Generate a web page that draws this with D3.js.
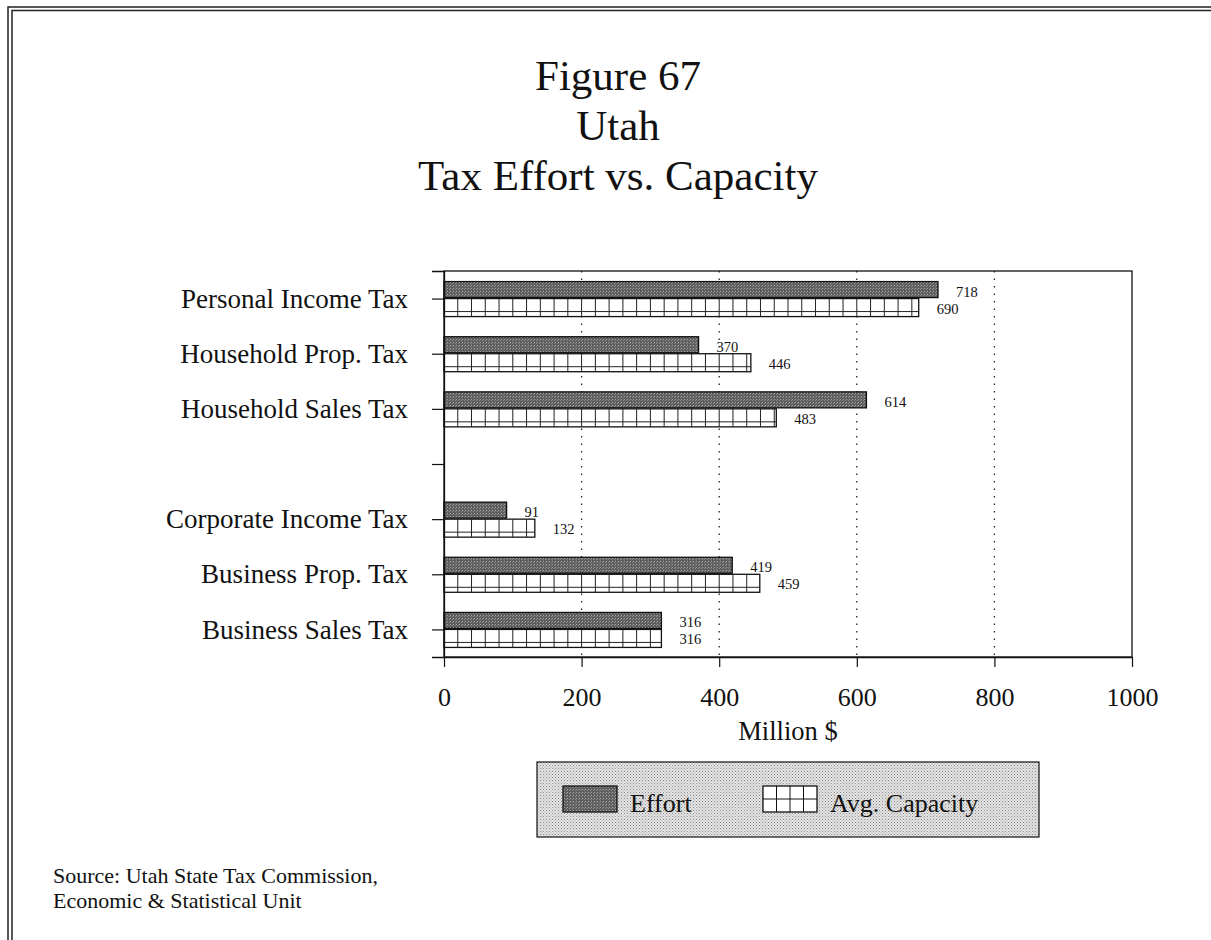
<!DOCTYPE html>
<html>
<head>
<meta charset="utf-8">
<script src="https://cdn.jsdelivr.net/npm/d3@7"></script>
<style>
  body { margin: 0; background: #fff; }
  text { font-family: "Liberation Serif", "Times New Roman", serif; fill: #111; }
</style>
</head>
<body>
<div id="container"></div>
<script>
/* DATA */
const categories = ["Personal Income Tax", "Household Prop. Tax", "Household Sales Tax",
  "Corporate Income Tax", "Business Prop. Tax", "Business Sales Tax"]
const effort = [718, 370, 614, 91, 419, 316]
const capacity = [690, 446, 483, 132, 459, 316]
const xTicks = [0, 200, 400, 600, 800, 1000]
const GAP = "__gap__"
const slots = [...categories.slice(0, 3), GAP, ...categories.slice(3)]
const titleLines = ["Figure 67", "Utah", "Tax Effort vs. Capacity"]
const sourceLines = ["Source: Utah State Tax Commission,", "Economic & Statistical Unit"]

/* CONSTANTS */
const width = 1211, height = 940
const plot = { left: 444, right: 1132, top: 271, bottom: 657 }

const svg = d3.select("#container")
  .append("svg")
  .attr("width", width)
  .attr("height", height)

const defs = svg.append("defs")

// dark stipple for effort bars
const dark = defs.append("pattern")
  .attr("id", "dark")
  .attr("patternUnits", "userSpaceOnUse")
  .attr("width", 3).attr("height", 3)
dark.append("rect").attr("width", 3).attr("height", 3).attr("fill", "#5e5e5e")
dark.append("rect").attr("x", 0).attr("y", 0).attr("width", 1).attr("height", 1).attr("fill", "#a8a8a8")
dark.append("rect").attr("x", 2).attr("y", 1).attr("width", 1).attr("height", 1).attr("fill", "#8c8c8c")

// light stipple for legend box
const light = defs.append("pattern")
  .attr("id", "light")
  .attr("patternUnits", "userSpaceOnUse")
  .attr("width", 3).attr("height", 3)
light.append("rect").attr("width", 3).attr("height", 3).attr("fill", "#e4e4e4")
light.append("rect").attr("x", 0).attr("y", 0).attr("width", 1).attr("height", 1).attr("fill", "#8a8a8a")
light.append("rect").attr("x", 1.5).attr("y", 1.5).attr("width", 1).attr("height", 1).attr("fill", "#a0a0a0")

// page frame (double line)
svg.append("rect").attr("x", 8).attr("y", 7).attr("width", width + 20).attr("height", height + 20)
  .attr("fill", "none").attr("stroke", "#222").attr("stroke-width", 1.5)
svg.append("rect").attr("x", 12).attr("y", 10.5).attr("width", width + 20).attr("height", height + 20)
  .attr("fill", "none").attr("stroke", "#222").attr("stroke-width", 1.5)

// TITLE
svg.selectAll("text.title")
  .data(titleLines)
  .join("text")
  .attr("class", "title")
  .attr("x", 618)
  .attr("y", (d, i) => 90 + i * 50)
  .attr("text-anchor", "middle")
  .attr("font-size", 43)
  .text(d => d)

// SCALES
const x = d3.scaleLinear().domain([0, 1000]).range([plot.left, plot.right])
const y = d3.scalePoint().domain(slots).range([plot.top, plot.bottom]).padding(0.5)

// GRID (dotted)
svg.selectAll("line.grid")
  .data(xTicks.slice(1, -1))
  .join("line")
  .attr("class", "grid")
  .attr("x1", d => x(d)).attr("x2", d => x(d))
  .attr("y1", plot.top).attr("y2", plot.bottom)
  .attr("stroke", "#222")
  .attr("stroke-width", 1.3)
  .attr("stroke-dasharray", "1.5,6")

// BARS
const rows = categories.map((c, i) => ({ cat: c, effort: effort[i], capacity: capacity[i] }))
const barH = 17, capH = 18

svg.selectAll("rect.effort")
  .data(rows)
  .join("rect")
  .attr("class", "effort")
  .attr("x", x(0))
  .attr("y", d => y(d.cat) - barH)
  .attr("width", d => x(d.effort) - x(0))
  .attr("height", barH - 1)
  .attr("fill", "url(#dark)")
  .attr("stroke", "#111")
  .attr("stroke-width", 1.3)

const cap = svg.selectAll("g.capacity")
  .data(rows)
  .join("g")
  .attr("class", "capacity")

cap.append("rect")
  .attr("x", x(0))
  .attr("y", d => y(d.cat))
  .attr("width", d => x(d.capacity) - x(0))
  .attr("height", capH)
  .attr("fill", "#fff")
  .attr("stroke", "#111")
  .attr("stroke-width", 1.3)

// grid cells inside capacity bars: every 20 units
cap.selectAll("line.cell")
  .data(d => d3.range(20, d.capacity, 20).map(v => ({ v, cat: d.cat })))
  .join("line")
  .attr("class", "cell")
  .attr("x1", d => x(d.v)).attr("x2", d => x(d.v))
  .attr("y1", d => y(d.cat)).attr("y2", d => y(d.cat) + capH)
  .attr("stroke", "#222")
  .attr("stroke-width", 1)

cap.append("line")
  .attr("x1", x(0)).attr("x2", d => x(d.capacity))
  .attr("y1", d => y(d.cat) + 13).attr("y2", d => y(d.cat) + 13)
  .attr("stroke", "#222")
  .attr("stroke-width", 1)

// VALUE LABELS
svg.selectAll("text.effortLabel")
  .data(rows)
  .join("text")
  .attr("class", "effortLabel")
  .attr("x", d => x(d.effort) + 18)
  .attr("y", d => y(d.cat) - 2)
  .attr("font-size", 14.5)
  .text(d => d.effort)

svg.selectAll("text.capLabel")
  .data(rows)
  .join("text")
  .attr("class", "capLabel")
  .attr("x", d => x(d.capacity) + 18)
  .attr("y", d => y(d.cat) + 15)
  .attr("font-size", 14.5)
  .text(d => d.capacity)

// PLOT FRAME
svg.append("rect")
  .attr("x", plot.left).attr("y", plot.top)
  .attr("width", plot.right - plot.left).attr("height", plot.bottom - plot.top)
  .attr("fill", "none").attr("stroke", "#111").attr("stroke-width", 1.3)

// AXES
const yAxis = svg.append("g")
  .attr("transform", `translate(${plot.left},0)`)
  .call(d3.axisLeft(y).tickSize(12).tickPadding(24).tickFormat(d => d === GAP ? "" : d))
yAxis.select(".domain").attr("stroke", "#111").attr("stroke-width", 1.3)
yAxis.selectAll(".tick line").attr("stroke", "#111").attr("stroke-width", 1.2)
yAxis.selectAll(".tick text")
  .attr("font-size", 27)
  .attr("font-family", "Liberation Serif, serif")
  .attr("fill", "#111")

const xAxis = svg.append("g")
  .attr("transform", `translate(0,${plot.bottom})`)
  .call(d3.axisBottom(x).tickValues(xTicks).tickFormat(d3.format("d"))
    .tickSize(10).tickPadding(21).tickSizeOuter(0))
xAxis.select(".domain").attr("stroke", "#111").attr("stroke-width", 1.3)
xAxis.selectAll(".tick line").attr("stroke", "#111").attr("stroke-width", 1.2)
xAxis.selectAll(".tick text")
  .attr("font-size", 26)
  .attr("font-family", "Liberation Serif, serif")
  .attr("fill", "#111")

svg.append("text")
  .attr("x", 788)
  .attr("y", 740)
  .attr("text-anchor", "middle")
  .attr("font-size", 26.5)
  .text("Million $")

// LEGEND
const legend = svg.append("g")
legend.append("rect")
  .attr("x", 537).attr("y", 762).attr("width", 502).attr("height", 75)
  .attr("fill", "url(#light)").attr("stroke", "#222").attr("stroke-width", 1.3)

legend.append("rect")
  .attr("x", 563).attr("y", 786).attr("width", 54).attr("height", 26)
  .attr("fill", "url(#dark)").attr("stroke", "#111").attr("stroke-width", 1.3)
legend.append("text").attr("x", 630).attr("y", 812).attr("font-size", 26).text("Effort")

const sw = { x: 763, y: 786, w: 54, h: 26 }
legend.append("rect")
  .attr("x", sw.x).attr("y", sw.y).attr("width", sw.w).attr("height", sw.h)
  .attr("fill", "#fff").attr("stroke", "#111").attr("stroke-width", 1.3)
legend.selectAll("line.lv")
  .data([1, 2, 3])
  .join("line")
  .attr("x1", d => sw.x + d * sw.w / 4).attr("x2", d => sw.x + d * sw.w / 4)
  .attr("y1", sw.y).attr("y2", sw.y + sw.h)
  .attr("stroke", "#111")
legend.append("line")
  .attr("x1", sw.x).attr("x2", sw.x + sw.w)
  .attr("y1", sw.y + sw.h / 2).attr("y2", sw.y + sw.h / 2)
  .attr("stroke", "#111")
legend.append("text").attr("x", 830).attr("y", 812).attr("font-size", 26).text("Avg. Capacity")

// SOURCE
svg.selectAll("text.source")
  .data(sourceLines)
  .join("text")
  .attr("class", "source")
  .attr("x", 53)
  .attr("y", (d, i) => 883 + i * 25)
  .attr("font-size", 22)
  .text(d => d)
</script>
</body>
</html>
